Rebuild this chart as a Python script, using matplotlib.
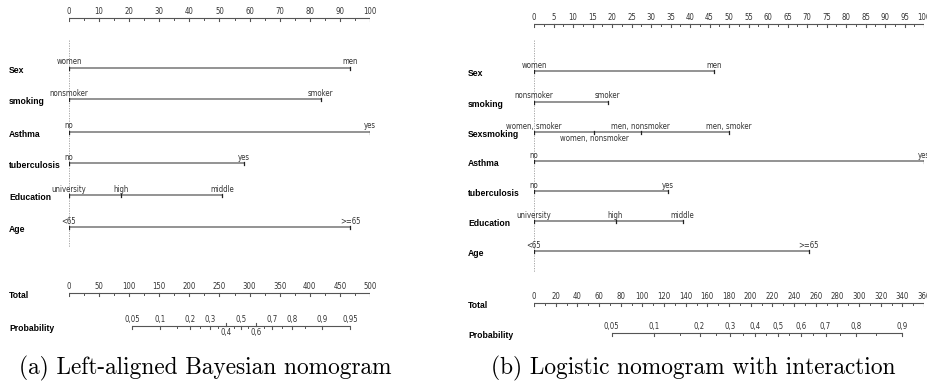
import matplotlib.pyplot as plt
from matplotlib.transforms import blended_transform_factory

# ---- panel (a): left-aligned Bayesian nomogram
a_vars = ['Sex', 'smoking', 'Asthma', 'tuberculosis', 'Education', 'Age']
a_levels = [['women', 'men'], ['nonsmoker', 'smoker'], ['no', 'yes'], ['no', 'yes'],
            ['university', 'high', 'middle'], ['<65', '>=65']]
a_points = [[0, 93.4], [0, 83.6], [0, 100], [0, 58.1], [0, 17.2, 50.8], [0, 93.4]]
a_total_max = 500
a_prob = [0.05, 0.1, 0.2, 0.3, 0.4, 0.5, 0.6, 0.7, 0.8, 0.9, 0.95]
a_prob_labels = ['0,05', '0,1', '0,2', '0,3', '0,4', '0,5', '0,6', '0,7', '0,8', '0,9', '0,95']
a_prob_below = ['0,4', '0,6']
a_logit_mid, a_logit_slope = 285.7, 0.01627   # total at p=0.5, logit per point

# ---- panel (b): logistic nomogram with interaction
b_vars = ['Sex', 'smoking', 'Sexsmoking', 'Asthma', 'tuberculosis', 'Education', 'Age']
b_levels = [['women', 'men'], ['nonsmoker', 'smoker'],
            ['women, smoker', 'women, nonsmoker', 'men, nonsmoker', 'men, smoker'],
            ['no', 'yes'], ['no', 'yes'], ['university', 'high', 'middle'], ['<65', '>=65']]
b_points = [[0, 46.2], [0, 18.9], [0, 15.5, 27.4, 49.9], [0, 100], [0, 34.3],
            [0, 20.9, 38.1], [0, 70.5]]
b_total_max = 360
b_prob = [0.05, 0.1, 0.2, 0.3, 0.4, 0.5, 0.6, 0.7, 0.8, 0.9]
b_prob_labels = ['0,05', '0,1', '0,2', '0,3', '0,4', '0,5', '0,6', '0,7', '0,8', '0,9']
b_prob_below = []
b_logit_mid, b_logit_slope = 225.0, 0.0192

minor_prob = [0.15, 0.25, 0.35, 0.45, 0.55, 0.65, 0.75, 0.85]

W, H = 928, 390
SMALL = dict(family=['Liberation Sans Narrow', 'DejaVu Sans'], stretch='condensed',
             fontsize=5.6, color='#333333')
BOLD = dict(family=['Liberation Sans', 'DejaVu Sans'], fontsize=6.2, fontweight='bold')
LINE = '#8a8a8a'

fig = plt.figure(figsize=(W / 100, H / 100), dpi=100)


def draw_axis(ax, y, majors, minors, labels, below=(), label_dy=-6.5):
    lo, hi = min(majors + minors), max(majors + minors)
    ax.plot([lo, hi], [y, y], color='#555555', lw=0.8, solid_capstyle='butt')
    for v, lab in zip(majors, labels):
        if lab in below:
            ax.plot([v, v], [y, y - 3], color='#555555', lw=0.8)
            ax.text(v, y + 7, lab, ha='center', va='center', **SMALL)
        else:
            ax.plot([v, v], [y, y + 3], color='#555555', lw=0.8)
            ax.text(v, y + label_dy, lab, ha='center', va='center', **SMALL)
    for v in minors:
        ax.plot([v, v], [y, y + 1.8], color='#555555', lw=0.7)


def panel(x0, x1, names, levels, points, total_max, total_step, pts_step,
          probs, prob_labels, prob_below, mid, slope,
          axis_y, rows_y, dash_end, total_y, prob_y, name_x, caption, cap_x):
    pos = [x0 / W, 0, (x1 - x0) / W, 1]
    ax = fig.add_axes(pos)
    ax.set_xlim(0, 100)
    ax.set_ylim(H, 0)
    ax.axis('off')
    name_tr = blended_transform_factory(fig.transFigure, ax.transData)

    # points axis
    maj = [i * pts_step for i in range(int(100 / pts_step) + 1)]
    mnr = [v + pts_step / 2 for v in maj[:-1]]
    draw_axis(ax, axis_y, maj, mnr, [str(int(v)) for v in maj])

    ax.plot([0, 0], [40, dash_end], color='#9a9a9a', lw=0.6, ls=(0, (1.5, 1.5)))

    # variable rows
    for name, levs, pts, y in zip(names, levels, points, rows_y):
        ax.plot([min(pts), max(pts)], [y, y], color=LINE, lw=1.3,
                solid_capstyle='butt')
        for k, (lev, p) in enumerate(zip(levs, pts)):
            ax.plot([p, p], [y - 1.2, y + 2.2], color='#222222', lw=0.9)
            dy = 7 if (name == 'Sexsmoking' and k == 1) else -6
            ax.text(p, y + dy, lev, ha='center', va='center', **SMALL)
        ax.text(name_x / W, y + 2.5, name, transform=name_tr, ha='left', va='center',
                **BOLD)

    # total points axis
    axt = fig.add_axes(pos)
    axt.set_xlim(0, total_max)
    axt.set_ylim(H, 0)
    axt.axis('off')
    maj = list(range(0, total_max + 1, total_step))
    mnr = [v + total_step / 2 for v in maj[:-1]]
    draw_axis(axt, total_y, maj, mnr, [str(v) for v in maj])
    axt.text(name_x / W, total_y + 2.5, 'Total', transform=name_tr, ha='left',
             va='center', **BOLD)

    # probability axis on a logit scale aligned with the total axis
    axp = fig.add_axes(pos)
    axp.set_xscale('logit')
    lo = 1 / (1 + 2.718281828 ** (-(0 - mid) * slope))
    hi = 1 / (1 + 2.718281828 ** (-(total_max - mid) * slope))
    axp.set_xlim(lo, hi)
    axp.set_ylim(H, 0)
    axp.axis('off')
    mnr = [m for m in minor_prob if probs[0] < m < probs[-1]]
    draw_axis(axp, prob_y, probs, mnr, prob_labels, below=prob_below)
    axp.text(name_x / W, prob_y + 2.5, 'Probability', transform=name_tr, ha='left',
             va='center', **BOLD)

    fig.text(cap_x / W, 1 - 368 / H, caption, ha='center', va='center',
             fontsize=16.8, family=['cmr10', 'DejaVu Serif'])


panel(69, 370, a_vars, a_levels, a_points, a_total_max, 50, 10,
      a_prob, a_prob_labels, a_prob_below, a_logit_mid, a_logit_slope,
      axis_y=18, rows_y=[68, 99, 132, 163, 195, 227], dash_end=247,
      total_y=293, prob_y=326, name_x=9,
      caption='(a) Left-aligned Bayesian nomogram', cap_x=205)

panel(534, 924, b_vars, b_levels, b_points, b_total_max, 20, 5,
      b_prob, b_prob_labels, b_prob_below, b_logit_mid, b_logit_slope,
      axis_y=24, rows_y=[71, 102, 132, 161, 191, 221, 251], dash_end=272,
      total_y=303, prob_y=333, name_x=468,
      caption='(b) Logistic nomogram with interaction', cap_x=693)

fig.savefig('out.png', dpi=100)
